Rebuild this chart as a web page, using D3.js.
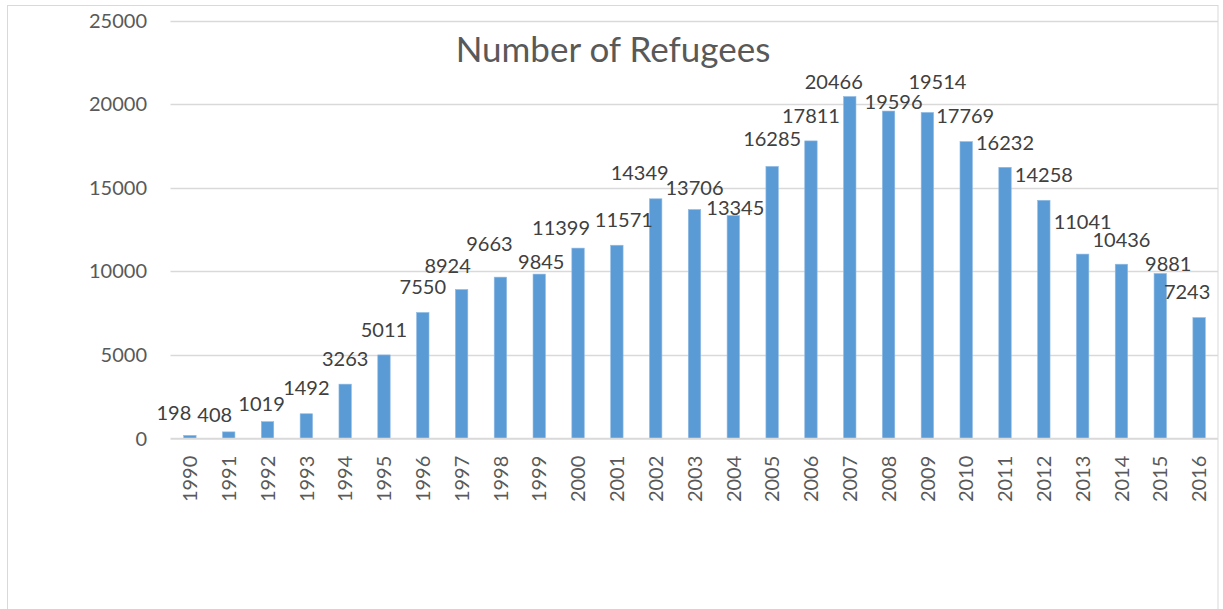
<!DOCTYPE html>
<html>
<head>
<meta charset="utf-8">
<script src="https://cdn.jsdelivr.net/npm/d3@7"></script>
<style>
  body { margin: 0; background: #fff; }
  text { font-family: Lato, "Open Sans", sans-serif; }
</style>
</head>
<body>
<div id="chart"></div>
<script>
// data
var years = ["1990","1991","1992","1993","1994","1995","1996","1997","1998","1999",
    "2000","2001","2002","2003","2004","2005","2006","2007","2008","2009",
    "2010","2011","2012","2013","2014","2015","2016"];
var refugees = [198, 408, 1019, 1492, 3263, 5011, 7550, 8924, 9663, 9845,
    11399, 11571, 14349, 13706, 13345, 16285, 17811, 20466, 19596, 19514,
    17769, 16232, 14258, 11041, 10436, 9881, 7243];
var yTicks = [0, 5000, 10000, 15000, 20000, 25000];
var title = "Number of Refugees";

// labels were dragged around by hand in the original, these are the nudges (px)
var labelDx = [-16,-14,-6,0,0,0,0,-14,-11,2,-17,7,-16,0,2,0,0,-16,5,10,-1,0,0,0,0,8,-12];
var labelDy = [3,8,8,0,0,0,0,2,-8,13,5,0,0,4,18,-2,0,11,16,-5,0,1,0,-7,1,16,0];

var W = 1223, H = 609;
var barColor = "#5b9bd5";
var gridColor = "#d9d9d9";
var axisText = "#595959";
var labelText = "#404040";

var svg = d3.select("#chart").append("svg")
    .attr("width", W)
    .attr("height", H);

svg.append("rect")
    .attr("width", W).attr("height", H)
    .attr("fill", "#fff");

// chart frame
svg.append("rect")
    .attr("x", 7.5).attr("y", 5.5)
    .attr("width", 1210.5).attr("height", 620)
    .attr("fill", "none")
    .attr("stroke", gridColor)
    .attr("stroke-width", 1);

var x = d3.scaleBand()
    .domain(years)
    .range([170.5, 1218.5])
    .paddingInner(0.68)
    .paddingOuter(0.34);

var y = d3.scaleLinear()
    .domain([0, 25000])
    .range([438.7, 20.7]);

// gridlines
svg.append("g")
    .selectAll("line")
    .data(yTicks.slice(1))
    .enter().append("line")
    .attr("x1", 170.5).attr("x2", 1218)
    .attr("y1", function (d) { return Math.round(y(d)) + 0.5; })
    .attr("y2", function (d) { return Math.round(y(d)) + 0.5; })
    .attr("stroke", gridColor)
    .attr("stroke-width", 1.3);

// y axis labels
var yAxis = svg.append("g")
    .attr("transform", "translate(147,0)")
    .call(d3.axisLeft(y).tickValues(yTicks).tickSize(0).tickPadding(0).tickFormat(d3.format("d")));
yAxis.select(".domain").remove();
yAxis.selectAll("text")
    .attr("fill", axisText)
    .style("font-size", "20px");

// bars
svg.append("g")
    .selectAll("rect")
    .data(refugees)
    .enter().append("rect")
    .attr("x", function (d, i) { return x(years[i]); })
    .attr("width", x.bandwidth())
    .attr("y", function (d) { return y(d); })
    .attr("height", function (d) { return y(0) - y(d); })
    .attr("fill", barColor)
    .attr("stroke", "#8fbbe4")
    .attr("stroke-width", 0.6);

// x axis
var xAxis = svg.append("g")
    .attr("transform", "translate(0," + y(0) + ")")
    .call(d3.axisBottom(x).tickSize(0).tickPadding(0));
xAxis.select(".domain")
    .attr("stroke", gridColor)
    .attr("stroke-width", 2)
    .attr("d", "M170.5,0H1218");
xAxis.selectAll("text")
    .attr("fill", axisText)
    .style("font-size", "20px")
    .attr("text-anchor", "end")
    .attr("transform", "translate(0,17) rotate(-90)")
    .attr("x", 0)
    .attr("y", 0)
    .attr("dy", "0.36em");

// data labels
svg.append("g")
    .selectAll("text")
    .data(refugees)
    .enter().append("text")
    .attr("x", function (d, i) { return x(years[i]) + x.bandwidth() / 2 + labelDx[i]; })
    .attr("y", function (d, i) { return y(d) - 25.5 + labelDy[i]; })
    .attr("dy", "0.36em")
    .attr("text-anchor", "middle")
    .attr("fill", labelText)
    .style("font-size", "20px")
    .text(function (d) { return d; });

// title
svg.append("text")
    .attr("x", 613)
    .attr("y", 61.5)
    .attr("text-anchor", "middle")
    .attr("fill", axisText)
    .style("font-size", "35px")
    .text(title);
</script>
</body>
</html>
